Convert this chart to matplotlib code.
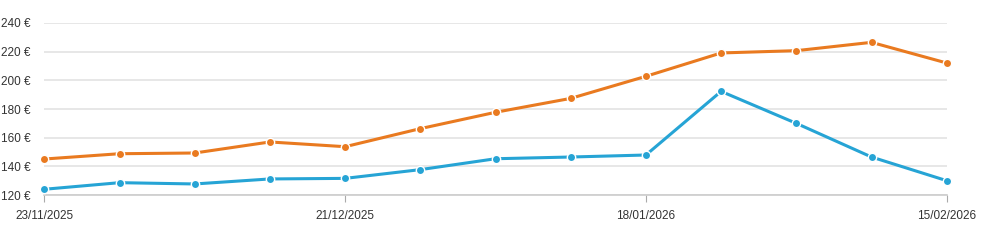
import matplotlib
matplotlib.use("Agg")
import matplotlib.pyplot as plt
import pandas as pd

dates = pd.date_range("2025-11-23", periods=13, freq="7D")
orange_vals = [145.1, 148.8, 149.3, 157.0, 153.7, 166.3, 177.7, 187.4, 202.8, 219.1, 220.7, 226.5, 212.1]
blue_vals = [124.0, 128.6, 127.7, 131.2, 131.6, 137.7, 145.3, 146.5, 147.9, 192.3, 170.0, 146.5, 130.0]
y_ticks = [120, 140, 160, 180, 200, 220, 240]
x_tick_idx = [0, 4, 8, 12]

plt.rcParams['font.family'] = ['Liberation Sans', 'DejaVu Sans']

fig = plt.figure(figsize=(9.95, 2.49), dpi=100)
ax = fig.add_axes([44.3 / 995, 1 - 195 / 249, (946.7 - 44.3) / 995, (195 - 23) / 249])

for vals, col in [(blue_vals, '#26a4d5'), (orange_vals, '#e97a20')]:
    ax.plot(dates, vals, color=col, linewidth=2.2, marker='o', markersize=6,
            markerfacecolor=col, markeredgecolor='white', markeredgewidth=1.0,
            clip_on=False, zorder=3)

ax.set_xlim(dates[0], dates[-1])
ax.set_ylim(120, 240)
ax.set_yticks(y_ticks)
ax.set_yticklabels([f"{v} €" for v in y_ticks])
ax.set_xticks([dates[i] for i in x_tick_idx])
ax.set_xticklabels([dates[i].strftime("%d/%m/%Y") for i in x_tick_idx])

ax.grid(axis='y', color='#e3e3e3', linewidth=1.2)
ax.set_axisbelow(True)
for s in ['top', 'right', 'left']:
    ax.spines[s].set_visible(False)
ax.spines['bottom'].set_color('#cccccc')
ax.spines['bottom'].set_linewidth(1.2)
ax.tick_params(axis='y', length=0, pad=10, labelsize=8.5, labelcolor='#333333')
ax.tick_params(axis='x', length=5, color='#aaaaaa', pad=6, labelsize=8.5, labelcolor='#333333')

fig.savefig("out.png", dpi=100)
